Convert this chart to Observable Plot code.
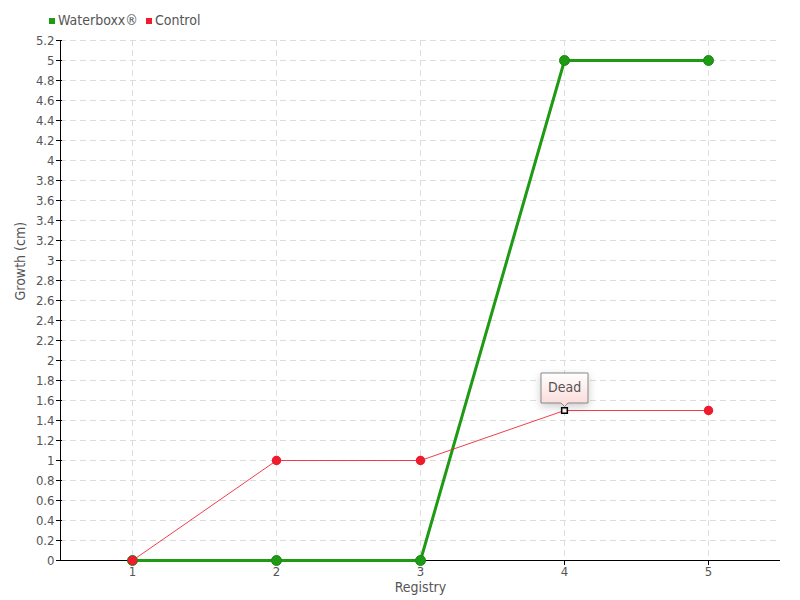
<!DOCTYPE html>
<html>
<head>
<meta charset="utf-8">
<script src="https://cdn.jsdelivr.net/npm/d3@7"></script>
<script src="https://cdn.jsdelivr.net/npm/@observablehq/plot@0.6"></script>
<style>
  body { margin: 0; background: #fff; }
  #wrap { position: relative; width: 800px; height: 600px; font-family: "Liberation Sans Narrow", "DejaVu Sans Condensed", sans-serif; }
  #legend { position: absolute; left: 49px; top: 12px; font-size: 14px; color: #555; display: flex; gap: 8px; align-items: center; }
  #legend span.sw { display: inline-block; width: 6px; height: 6px; margin-right: 3px; vertical-align: middle; }
  #chart { position: absolute; left: 0; top: 0; }
</style>
</head>
<body>
<div id="wrap">
  <div id="chart"></div>
  <div id="legend"></div>
</div>
<script>
const registry = [1, 2, 3, 4, 5];
const waterboxx = [0, 0, 0, 5, 5];
const control = [0, 1, 1, 1.5, 1.5];
const controlNotes = ["", "", "", "Dead", ""];
const seriesNames = ["Waterboxx®", "Control"];
const seriesColors = ["#1e9a14", "#ee1c2e"];
const yTicks = [0, 0.2, 0.4, 0.6, 0.8, 1, 1.2, 1.4, 1.6, 1.8, 2, 2.2, 2.4, 2.6, 2.8, 3, 3.2, 3.4, 3.6, 3.8, 4, 4.2, 4.4, 4.6, 4.8, 5, 5.2];
const xTicks = [1, 2, 3, 4, 5];

const wData = registry.map((x, i) => ({x, y: waterboxx[i]}));
const cData = registry.map((x, i) => ({x, y: control[i], note: controlNotes[i]}));
const cAlive = cData.filter(d => !d.note);
const cNoted = cData.filter(d => d.note);

const font = '"Liberation Sans Narrow", "DejaVu Sans Condensed", sans-serif';

const chart = Plot.plot({
  width: 800,
  height: 600,
  marginLeft: 60,
  marginRight: 20,
  marginTop: 40,
  marginBottom: 40,
  style: {fontFamily: font, fontSize: "13px", color: "#555", background: "#fff"},
  x: {domain: [0.5, 5.5]},
  y: {domain: [0, 5.2]},
  marks: [
    Plot.gridY(yTicks.slice(1), {stroke: "#ddd", strokeOpacity: 1, strokeDasharray: "6,4"}),
    Plot.gridX(xTicks, {stroke: "#ddd", strokeOpacity: 1, strokeDasharray: "6,4"}),
    Plot.axisY(yTicks, {tickSize: 6, tickPadding: 2, tickFormat: d => String(d), label: null, fill: "#555", stroke: "#000", dx: 2, fontSize: 13}),
    Plot.axisX(xTicks, {tickSize: 5, tickPadding: 1, tickFormat: d => String(d), label: null, fill: "#555", stroke: "#000", fontSize: 13}),
    Plot.ruleX([0.5], {stroke: "#000", strokeWidth: 1}),
    Plot.ruleY([0], {stroke: "#000", strokeWidth: 1}),
    Plot.text(["Registry"], {frameAnchor: "bottom", dy: 31, fill: "#555", fontSize: 14}),
    Plot.text(["Growth (cm)"], {frameAnchor: "left", dx: -40, rotate: -90, fill: "#555", fontSize: 14}),
    Plot.line(wData, {x: "x", y: "y", stroke: seriesColors[0], strokeWidth: 3}),
    Plot.dot(wData, {x: "x", y: "y", r: 5, fill: seriesColors[0], stroke: "#178a10", strokeWidth: 1}),
    Plot.line(cData, {x: "x", y: "y", stroke: seriesColors[1], strokeWidth: 1, strokeOpacity: 0.85}),
    Plot.dot(cAlive, {x: "x", y: "y", r: 4, fill: seriesColors[1], stroke: seriesColors[1]}),
    Plot.dot(cNoted, {x: "x", y: "y", r: 3.2, symbol: "square", fill: "#fff", stroke: "#000", strokeWidth: 1.5}),
    Plot.tip(cNoted, {x: "x", y: "y", title: "note", anchor: "bottom", pointerSize: 7, dy: -4, fill: "url(#tipGrad)", stroke: "#888", fontSize: 14, fontFamily: font, textPadding: 7})
  ]
});
const defs = document.createElementNS("http://www.w3.org/2000/svg", "defs");
defs.innerHTML = '<linearGradient id="tipGrad" x1="0" y1="0" x2="0" y2="1"><stop offset="0" stop-color="#ffffff"/><stop offset="1" stop-color="#fbd8d8"/></linearGradient>';
chart.insertBefore(defs, chart.firstChild);
document.getElementById("chart").appendChild(chart);

const legend = document.getElementById("legend");
seriesNames.forEach((n, i) => {
  const item = document.createElement("span");
  item.innerHTML = `<span class="sw" style="background:${seriesColors[i]}"></span>${n}`;
  legend.appendChild(item);
});
</script>
</body>
</html>
